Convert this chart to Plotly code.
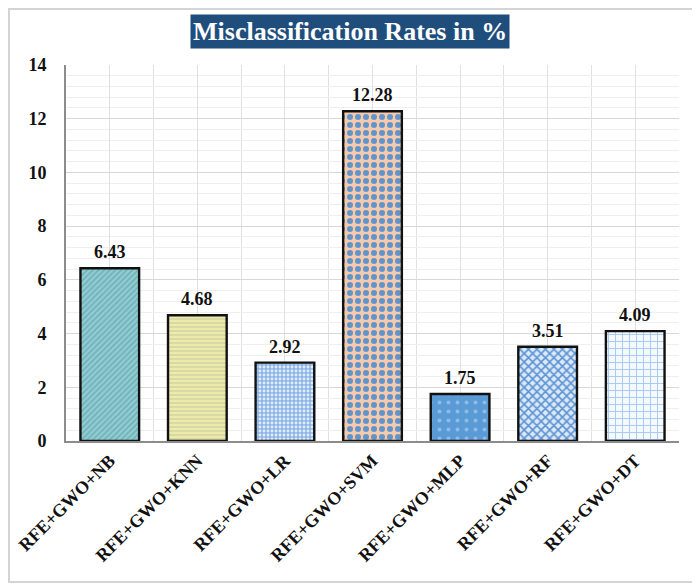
import plotly.graph_objects as go

categories = ["RFE+GWO+NB", "RFE+GWO+KNN", "RFE+GWO+LR", "RFE+GWO+SVM",
              "RFE+GWO+MLP", "RFE+GWO+RF", "RFE+GWO+DT"]
values = [6.43, 4.68, 2.92, 12.28, 1.75, 3.51, 4.09]
y_ticks = [0, 2, 4, 6, 8, 10, 12, 14]
title_text = "Misclassification Rates in %"

bg_colors = ["#93cdd1", "#f0eaa9", "#8db4e6", "#f7caa9", "#5b9bd5", "#dbe9f9", "#f4f9fe"]
fg_colors = ["#6cb1b8", "#cdd2a6", "#e2edfb", "#6395cd", "#8dbbea", "#5a92d2", "#a6c9ee"]
shapes_p = ["/", "-", ".", ".", ".", "x", "+"]
sizes_p = [4, 4, 4, 8, 9, 6, 7]
solid_p = [0.4, 0.35, 0.4, 0.45, 0.15, 0.45, 0.25]

font_serif = "Liberation Serif, Times New Roman, serif"
x_pos = list(range(len(categories)))

fig = go.Figure()
for i in range(len(categories)):
    fig.add_trace(go.Bar(
        x=[x_pos[i]], y=[values[i]], width=0.67, name=categories[i],
        marker=dict(
            color=bg_colors[i],
            line=dict(color="#111111", width=2.4),
            pattern=dict(shape=shapes_p[i], fgcolor=fg_colors[i], bgcolor=bg_colors[i],
                         fgopacity=1, size=sizes_p[i], solidity=solid_p[i],
                         fillmode="overlay"),
        ),
        showlegend=False,
    ))

annotations = [dict(
    x=xp, y=v, xref="x", yref="y", text=f"<b>{v:.2f}</b>", showarrow=False,
    yanchor="bottom", yshift=4,
    font=dict(family=font_serif, size=18, color="#111111"),
) for xp, v in zip(x_pos, values)]

annotations.append(dict(
    text=f"<b>{title_text}</b>", xref="paper", yref="paper",
    x=0.463, y=1.088, xanchor="center", yanchor="middle", showarrow=False,
    font=dict(family=font_serif, size=26, color="white"),
    bgcolor="#1f4e7d", borderpad=2,
))

fig.update_layout(
    width=692, height=580,
    margin=dict(l=58, r=21, t=57, b=147),
    paper_bgcolor="white", plot_bgcolor="white",
    barmode="overlay",
    font=dict(family=font_serif, color="#111111"),
    xaxis=dict(
        range=[-0.5, len(categories) - 0.5],
        tickvals=x_pos, ticktext=[f"<b>{c}</b>" for c in categories],
        tickangle=-45, tickfont=dict(family=font_serif, size=18, color="#111111"),
        showgrid=True, gridcolor="#e0e0e0", gridwidth=1,
        minor=dict(dtick=0.5, tick0=-0.5, showgrid=True, gridcolor="#e0e0e0", gridwidth=1),
        showline=True, linecolor="#8c8c8c", linewidth=2,
        ticks="", zeroline=False, fixedrange=True, automargin=False,
    ),
    yaxis=dict(
        range=[0, 14], tickvals=y_ticks, ticktext=[f"<b>{t}</b>" for t in y_ticks],
        tickfont=dict(family=font_serif, size=18, color="#111111"),
        showgrid=True, gridcolor="#d8d8d8", gridwidth=1,
        minor=dict(dtick=0.4, showgrid=True, gridcolor="#efefef", gridwidth=1),
        showline=True, linecolor="#8c8c8c", linewidth=2,
        ticks="", ticklabelstandoff=14, zeroline=False, fixedrange=True, automargin=False,
    ),
    shapes=[dict(type="rect", xref="paper", yref="paper", x0=-0.093, x1=1.026,
                 y0=-0.375, y1=1.149, line=dict(color="#d4d4d4", width=2),
                 fillcolor="rgba(0,0,0,0)", layer="below")],
    annotations=annotations,
)

fig.write_html("out.html")
